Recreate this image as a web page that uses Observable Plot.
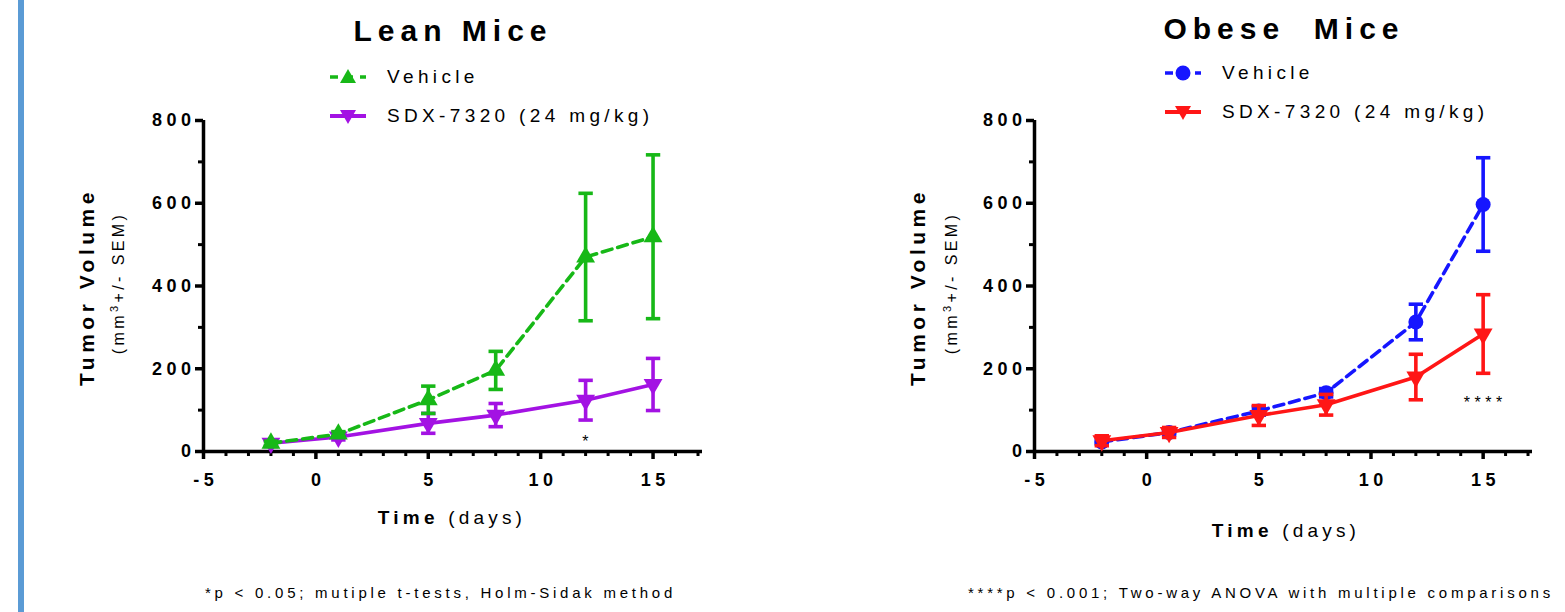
<!DOCTYPE html>
<html>
<head>
<meta charset="utf-8">
<script src="https://cdn.jsdelivr.net/npm/d3@7"></script>
<script src="https://cdn.jsdelivr.net/npm/@observablehq/plot@0.6"></script>
<style>
  html, body { margin: 0; padding: 0; background: #fff; }
  #root { position: relative; width: 1565px; height: 612px; overflow: hidden; background: #fff;
          font-family: "Liberation Sans", Arial, Helvetica, sans-serif; color: #000; }
  .abs { position: absolute; white-space: pre; line-height: 1; }
  .bar { position: absolute; left: 18px; top: 0; width: 6px; height: 612px; background: #5B9BD5; }
  .title { font-size: 30px; font-weight: bold; letter-spacing: 6px; }
  .leg { font-size: 19px; letter-spacing: 4.35px; display: flex; align-items: center; }
  .leg svg { margin-right: 20px; }
  .ylab { font-size: 21px; font-weight: bold; letter-spacing: 4.5px; transform: translate(-50%, -50%) rotate(-90deg); }
  .ysub { font-size: 16px; letter-spacing: 3.4px; transform: translate(-50%, -50%) rotate(-90deg); }
  .xlab { font-size: 19px; letter-spacing: 4.2px; transform: translate(-50%, -50%); }
  .note { font-size: 15px; letter-spacing: 3.75px; transform: translate(0, -50%); }
  .panel { position: absolute; top: 0; }
</style>
</head>
<body>
<div id="root">
  <div class="bar"></div>
  <div id="leftPanel" class="panel" style="left:0px"></div>
  <div id="rightPanel" class="panel" style="left:780px"></div>
</div>
<script>
// ---------- data ----------
const days = [-2, 1, 5, 8, 12, 15];

const leanVehicleMean = [20, 42, 125, 196, 470, 519];
const leanVehicleSem  = [5, 6, 33, 46, 154, 198];
const leanSdxMean     = [20, 35, 68, 88, 124, 162];
const leanSdxSem      = [8, 7, 24, 28, 48, 63];

const obeseVehicleMean = [23, 46, 98, 142, 313, 597];
const obeseVehicleSem  = [5, 6, 10, 10, 43, 113];
const obeseSdxMean     = [26, 46, 87, 113, 180, 284];
const obeseSdxSem      = [12, 12, 24, 25, 55, 95];

const xTicks = [-5, 0, 5, 10, 15];
const xMinorTicks = [-4, -3, -2, -1, 1, 2, 3, 4, 6, 7, 8, 9, 11, 12, 13, 14, 16, 17];
const yTicks = [0, 200, 400, 600, 800];
const yMinorTicks = [100, 300, 500, 700];

const leanSig = [{day: 12, value: 24, label: "*"}];
const obeseSig = [{day: 15, value: 118, label: "****"}];

const seriesNames = ["Vehicle", "SDX-7320 (24 mg/kg)"];
const panelTitles = ["Lean Mice", "Obese  Mice"];
const footnotes = [
  "*p < 0.05; mutiple t-tests, Holm-Sidak method",
  "****p < 0.001; Two-way ANOVA with multiple comparisons"
];

const GREEN = "#17B817", PURPLE = "#A312E3", BLUE = "#1616FF", RED = "#FF1616";
const FONT = '"Liberation Sans", Arial, Helvetica, sans-serif';
const LW = 3.6;
const X0 = -5, Y0 = 0;

function rows(mean, sem) {
  return days.map((d, i) => ({x: d, y: mean[i], lo: mean[i] - sem[i], hi: mean[i] + sem[i]}));
}

function seriesMarks(data, color, opts) {
  return [
    Plot.line(data, {x: "x", y: "y", stroke: color, strokeWidth: LW, strokeDasharray: opts.dash || null}),
    Plot.ruleX(data, {x: "x", y1: "lo", y2: "hi", stroke: color, strokeWidth: LW}),
    Plot.link(data, {x1: d => d.x - 0.32, x2: d => d.x + 0.32, y1: "hi", y2: "hi", stroke: color, strokeWidth: LW}),
    Plot.link(data, {x1: d => d.x - 0.32, x2: d => d.x + 0.32, y1: "lo", y2: "lo", stroke: color, strokeWidth: LW}),
    Plot.dot(data, {x: "x", y: "y", symbol: opts.symbol, rotate: opts.rotate || 0, r: opts.r, fill: color, stroke: "none"})
  ];
}

function axisMarks() {
  return [
    Plot.ruleX(xMinorTicks, {x: d => d, y1: Y0, y2: Y0, insetBottom: -5, stroke: "#000", strokeWidth: 3}),
    Plot.ruleX(xTicks, {x: d => d, y1: Y0, y2: Y0, insetBottom: -8, stroke: "#000", strokeWidth: 3.5}),
    Plot.ruleY(yMinorTicks, {y: d => d, x1: X0, x2: X0, insetLeft: -5, stroke: "#000", strokeWidth: 3}),
    Plot.ruleY(yTicks, {y: d => d, x1: X0, x2: X0, insetLeft: -8, stroke: "#000", strokeWidth: 3.5}),
    Plot.ruleX([X0], {strokeWidth: 3.5, stroke: "#000"}),
    Plot.ruleY([Y0], {strokeWidth: 3.5, stroke: "#000"}),
    Plot.text(xTicks, {x: d => d, text: d => String(d), frameAnchor: "bottom", lineAnchor: "top", dy: 22, dx: 2.3,
                       fontSize: 18, fontWeight: "bold", fill: "#000"}),
    Plot.text(yTicks, {y: d => d, text: d => String(d), frameAnchor: "left", textAnchor: "end", dx: -8,
                       fontSize: 18, fontWeight: "bold", fill: "#000"})
  ];
}

function makePanel(cfg) {
  return Plot.plot({
    width: cfg.width, height: 612,
    marginTop: 120, marginBottom: 161, marginLeft: cfg.ml, marginRight: cfg.mr,
    style: {fontFamily: FONT, background: "transparent", overflow: "visible", letterSpacing: "4.5px", color: "#000"},
    x: {domain: [-5, 17.2], axis: null},
    y: {domain: [0, 800], axis: null},
    marks: [
      ...axisMarks(),
      ...cfg.first,
      ...cfg.second,
      Plot.text(cfg.sig, {x: "day", y: "value", text: "label", fontSize: 16, dx: 2, fill: "#000"})
    ]
  });
}

const left = makePanel({
  width: 780, ml: 203, mr: 78,
  first: seriesMarks(rows(leanSdxMean, leanSdxSem), PURPLE, {symbol: "triangle", rotate: 180, r: 7}),
  second: seriesMarks(rows(leanVehicleMean, leanVehicleSem), GREEN, {symbol: "triangle", r: 7, dash: "10,6"}),
  sig: leanSig
});
document.getElementById("leftPanel").appendChild(left);

const right = makePanel({
  width: 785, ml: 254, mr: 33,
  first: seriesMarks(rows(obeseVehicleMean, obeseVehicleSem), BLUE, {symbol: "circle", r: 7.5, dash: "10,6"}),
  second: seriesMarks(rows(obeseSdxMean, obeseSdxSem), RED, {symbol: "triangle", rotate: 180, r: 7}),
  sig: obeseSig
});
document.getElementById("rightPanel").appendChild(right);

// ---------- text & legends ----------
const root = document.getElementById("root");
function addDiv(cls, html, x, y, extra) {
  const el = document.createElement("div");
  el.className = "abs " + cls;
  el.innerHTML = html;
  el.style.left = x + "px";
  el.style.top = y + "px";
  if (extra) Object.assign(el.style, extra);
  root.appendChild(el);
  return el;
}
function swatch(color, kind, dashed) {
  const line = dashed
    ? `<line x1="0" y1="9" x2="36" y2="9" stroke="${color}" stroke-width="3.5" stroke-dasharray="8,7"/>`
    : `<line x1="0" y1="9" x2="36" y2="9" stroke="${color}" stroke-width="4"/>`;
  let m = "";
  if (kind === "up") m = `<path d="M18,1 L26,15 L10,15 Z" fill="${color}"/>`;
  if (kind === "down") m = `<path d="M18,17 L26,3 L10,3 Z" fill="${color}"/>`;
  if (kind === "circle") m = `<circle cx="18" cy="9" r="7.5" fill="${color}"/>`;
  return `<svg width="37" height="18" viewBox="0 0 37 18">${line}${m}</svg>`;
}

// titles
addDiv("title", panelTitles[0], 453, 31, {transform: "translate(-50%,-50%)"});
addDiv("title", panelTitles[1], 1284, 29, {transform: "translate(-50%,-50%)"});

// legends
addDiv("leg", swatch(GREEN, "up", true) + seriesNames[0], 330, 67);
addDiv("leg", swatch(PURPLE, "down", false) + seriesNames[1], 330, 106);
addDiv("leg", swatch(BLUE, "circle", true) + seriesNames[0], 1165, 63);
addDiv("leg", swatch(RED, "down", false) + seriesNames[1], 1165, 102);

// y axis titles
addDiv("ylab", "Tumor Volume", 86, 287);
addDiv("ysub", "(mm<sup style=\"font-size:11px\">3</sup>+/- SEM)", 118, 283);
addDiv("ylab", "Tumor Volume", 917, 287);
addDiv("ysub", "(mm<sup style=\"font-size:11px\">3</sup>+/- SEM)", 951, 283);

// x axis titles
addDiv("xlab", "<b>Time</b> (days)", 452, 517);
addDiv("xlab", "<b>Time</b> (days)", 1286, 530);

// footnotes
addDiv("note", footnotes[0], 205, 592);
addDiv("note", footnotes[1], 968, 592, {letterSpacing: "3.75px"});
</script>
</body>
</html>
